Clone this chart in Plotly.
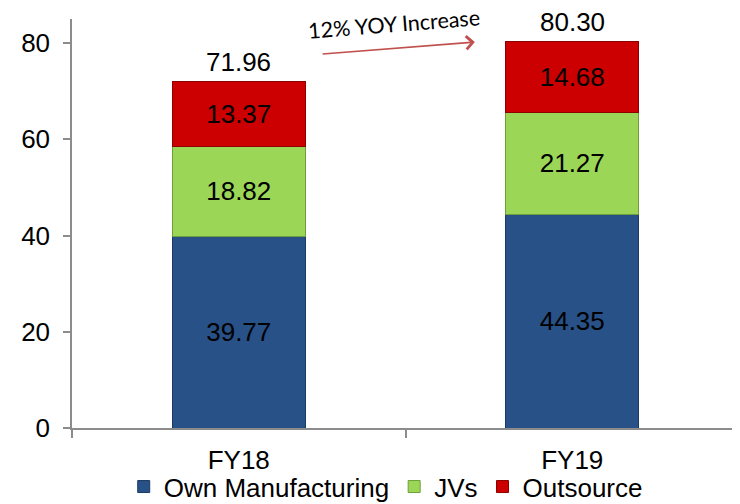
import plotly.graph_objects as go

categories = ["FY18", "FY19"]
own_manufacturing = [39.77, 44.35]
jvs = [18.82, 21.27]
outsource = [13.37, 14.68]
series_names = ["Own Manufacturing", "JVs", "Outsource"]
y_ticks = [0, 20, 40, 60, 80]
annotation_text = "12% YOY Increase"

colors = ["#285187", "#9BD657", "#CC0000"]
line_colors = ["#1B3A63", "#6E9E3A", "#8E0000"]
FONT = "Liberation Sans, Arial, sans-serif"
FS = 26

fig = go.Figure()
for name, vals, c, lc in zip(series_names, [own_manufacturing, jvs, outsource], colors, line_colors):
    fig.add_trace(go.Bar(
        x=categories, y=vals, name=name,
        marker=dict(color=c, line=dict(color=lc, width=1)),
        text=[f"{v:.2f}" for v in vals],
        textposition="inside", insidetextanchor="middle",
        textfont=dict(size=FS, color="black", family=FONT),
        constraintext="none",
        width=0.4,
    ))

totals = [a + b + c for a, b, c in zip(own_manufacturing, jvs, outsource)]
for cat, t in zip(categories, totals):
    fig.add_annotation(x=cat, y=t, text=f"{t:.2f}", showarrow=False,
                       yanchor="bottom", yshift=3,
                       font=dict(size=FS, color="black", family=FONT))

# YOY arrow
fig.add_annotation(x=0.708, y=80.2, ax=0.247, ay=77.7, xref="x", yref="y",
                   axref="x", ayref="y", text="", showarrow=True,
                   arrowhead=4, arrowsize=1.6, arrowwidth=1.6, arrowcolor="#C0504D")
fig.add_annotation(x=0.465, y=83.9, xref="x", yref="y", text=annotation_text,
                   showarrow=False, textangle=-4.5, borderpad=0,
                   font=dict(size=21.5, color="black", family="Lato, Carlito, sans-serif"))

fig.update_layout(
    barmode="stack",
    width=732, height=496,
    margin=dict(l=64, r=1, t=11, b=76, autoexpand=False),
    plot_bgcolor="white", paper_bgcolor="white",
    font=dict(family=FONT, size=FS, color="black"),
    bargap=0.6,
    legend=dict(orientation="h", x=0.516, xanchor="center", y=0.035, yanchor="middle",
                yref="container", xref="container", bgcolor="rgba(0,0,0,0)",
                font=dict(size=FS, family=FONT), traceorder="normal",
                itemwidth=30, tracegroupgap=0),
    showlegend=True,
)
fig.update_xaxes(showline=True, linecolor="#8C8C8C", linewidth=1.5,
                 ticks="outside", tickson="boundaries", ticklen=8,
                 tickcolor="#8C8C8C", tickwidth=1.5, automargin=False,
                 tickfont=dict(size=FS, family=FONT), range=[-0.5, 1.5],
                 ticklabelstandoff=8)
fig.update_yaxes(range=[0, 85], tickvals=y_ticks, showline=True,
                 linecolor="#8C8C8C", linewidth=1.5, ticks="outside",
                 ticklen=7, tickcolor="#8C8C8C", tickwidth=1.5,
                 showgrid=False, zeroline=False, automargin=False,
                 tickfont=dict(size=FS, family=FONT), ticklabelstandoff=8)

fig.write_html("out.html")
